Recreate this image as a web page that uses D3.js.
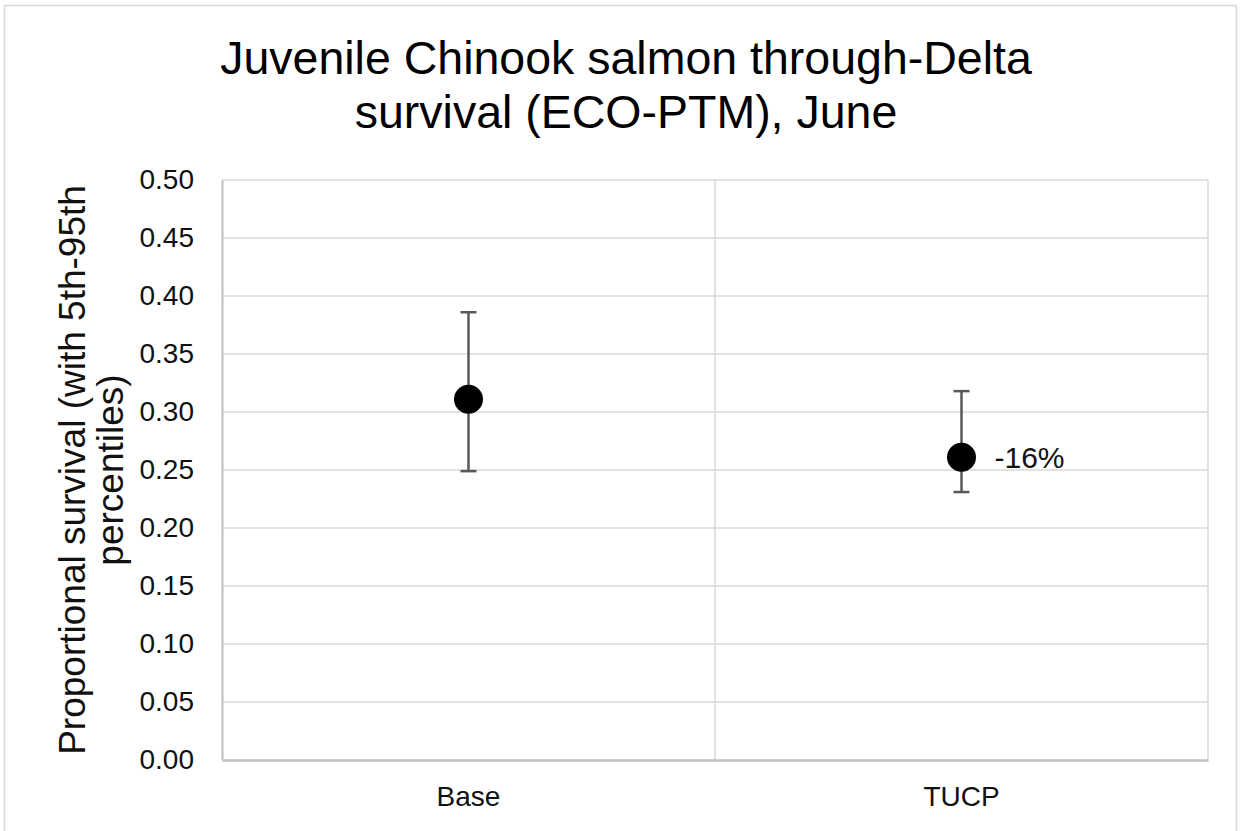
<!DOCTYPE html>
<html>
<head>
<meta charset="utf-8">
<script src="https://cdn.jsdelivr.net/npm/d3@7"></script>
<style>
  html, body { margin: 0; padding: 0; background: #fff; }
  svg { display: block; font-family: "Liberation Sans", Arial, sans-serif; }
</style>
</head>
<body>
<svg id="chart" width="1241" height="831"></svg>
<script>
// Through-Delta survival estimates with 5th-95th percentile ranges
const categories = ["Base", "TUCP"];
const survival   = [0.311, 0.261];
const p5         = [0.249, 0.231];
const p95        = [0.386, 0.318];
const pointLabels = ["", "-16%"];
const yTicks = [0, 0.05, 0.10, 0.15, 0.20, 0.25, 0.30, 0.35, 0.40, 0.45, 0.50];
const titleLines = ["Juvenile Chinook salmon through-Delta", "survival (ECO-PTM), June"];
const yTitleLines = ["Proportional survival (with 5th-95th", "percentiles)"];

const svg = d3.select("#chart");
const W = 1241, H = 831;
const plot = { left: 222, right: 1208, top: 180, bottom: 760 };

// outer chart frame
svg.append("rect")
  .attr("x", 4.5).attr("y", 5.5)
  .attr("width", W - 9).attr("height", H + 10)
  .attr("fill", "#fff").attr("stroke", "#d9d9d9").attr("stroke-width", 1.5);

const x = d3.scaleBand().domain(categories).range([plot.left, plot.right]);
const y = d3.scaleLinear().domain([0, 0.5]).range([plot.bottom, plot.top]);

// horizontal gridlines
svg.append("g")
  .selectAll("line").data(yTicks.filter(d => d > 0)).join("line")
  .attr("x1", plot.left).attr("x2", plot.right)
  .attr("y1", d => y(d)).attr("y2", d => y(d))
  .attr("stroke", "#d9d9d9").attr("stroke-width", 1.5);

// vertical gridlines between categories
const vLines = categories.map(c => x(c) + x.bandwidth());
svg.append("g")
  .selectAll("line").data(vLines).join("line")
  .attr("x1", d => d).attr("x2", d => d)
  .attr("y1", plot.top).attr("y2", plot.bottom)
  .attr("stroke", "#d9d9d9").attr("stroke-width", 1.5);

// y axis
const yAxis = d3.axisLeft(y).tickValues(yTicks).tickFormat(d3.format(".2f")).tickSize(0).tickPadding(28);
const gy = svg.append("g").attr("transform", `translate(${plot.left},0)`).call(yAxis);
gy.select(".domain").attr("stroke", "#bfbfbf").attr("stroke-width", 2);
gy.selectAll("text").attr("font-size", 28).attr("fill", "#111")
  .attr("font-family", "'Liberation Sans', Arial, sans-serif");

// x axis
const xAxis = d3.axisBottom(x).tickSize(0).tickPadding(26);
const gx = svg.append("g").attr("transform", `translate(0,${plot.bottom})`).call(xAxis);
gx.select(".domain").attr("stroke", "#bfbfbf").attr("stroke-width", 2.5);
gx.selectAll("text").attr("font-size", 28).attr("fill", "#111")
  .attr("font-family", "'Liberation Sans', Arial, sans-serif");

// error bars
const cx = c => x(c) + x.bandwidth() / 2;
const eb = svg.append("g").attr("stroke", "#595959").attr("stroke-width", 2.5);
categories.forEach((c, i) => {
  eb.append("line").attr("x1", cx(c)).attr("x2", cx(c)).attr("y1", y(p5[i])).attr("y2", y(p95[i]));
  [p5[i], p95[i]].forEach(v => {
    eb.append("line").attr("x1", cx(c) - 8).attr("x2", cx(c) + 8).attr("y1", y(v)).attr("y2", y(v));
  });
});

// survival points
svg.append("g").selectAll("circle").data(categories).join("circle")
  .attr("cx", d => cx(d)).attr("cy", (d, i) => y(survival[i])).attr("r", 14.5)
  .attr("fill", "#000");

// change labels
svg.append("g").selectAll("text").data(categories).join("text")
  .attr("x", d => cx(d) + 33).attr("y", (d, i) => y(survival[i]) + 10.5)
  .attr("font-size", 30).attr("fill", "#111")
  .text((d, i) => pointLabels[i]);

// chart title
svg.append("g").selectAll("text").data(titleLines).join("text")
  .attr("x", 626).attr("y", (d, i) => 74 + i * 54)
  .attr("text-anchor", "middle").attr("font-size", 46.5).attr("fill", "#000")
  .text(d => d);

// y axis title
svg.append("g").attr("transform", `translate(0,${(plot.top + plot.bottom) / 2}) rotate(-90)`)
  .selectAll("text").data(yTitleLines).join("text")
  .attr("x", 0).attr("y", (d, i) => 85 + i * 38)
  .attr("text-anchor", "middle").attr("font-size", 37).attr("fill", "#111")
  .text(d => d);
</script>
</body>
</html>
